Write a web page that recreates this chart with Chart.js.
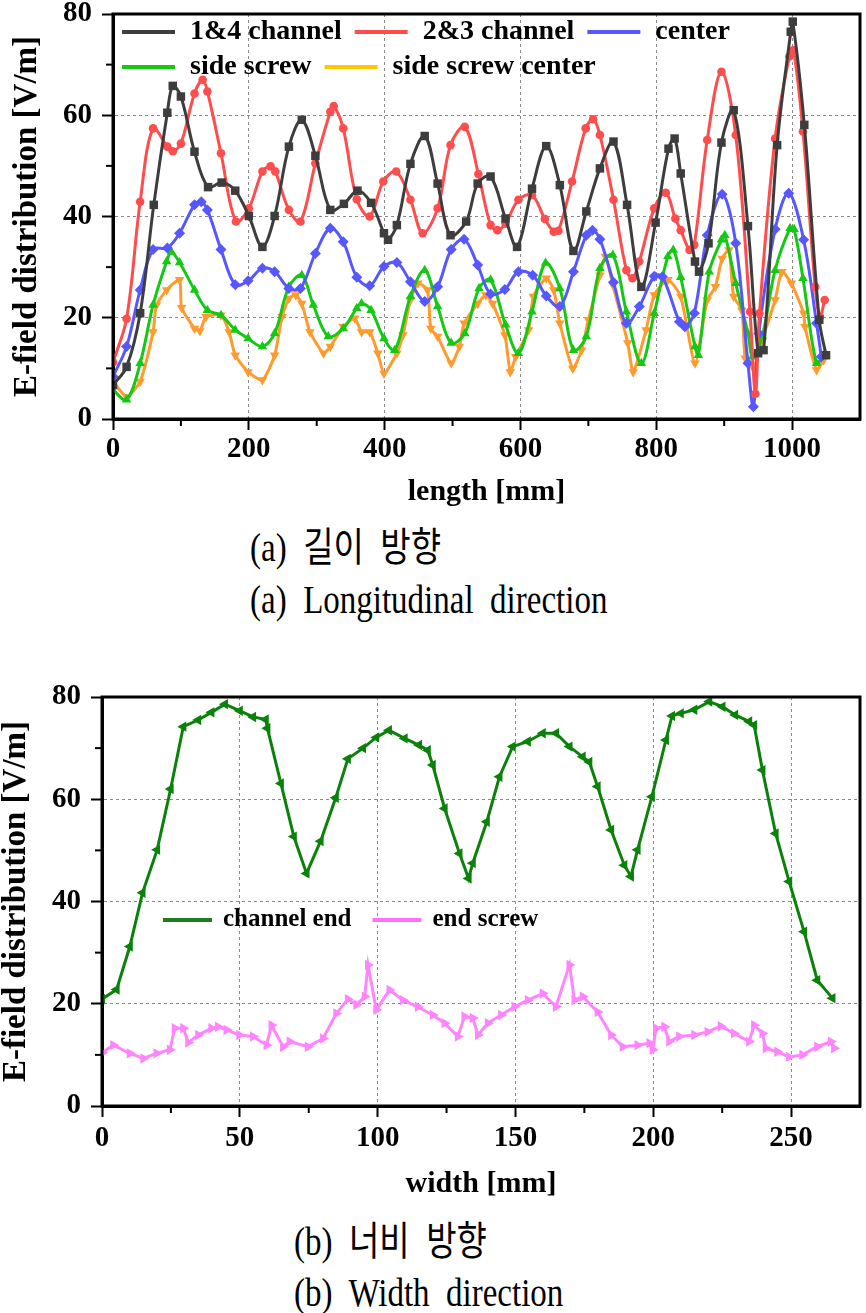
<!DOCTYPE html>
<html>
<head>
<meta charset="utf-8">
<script src="https://cdn.jsdelivr.net/npm/chart.js@4.4.1/dist/chart.umd.min.js"></script>
<style>
    body { margin: 0; background: #fff; }
    #page { position: relative; width: 866px; height: 1313px; background: #fff; overflow: hidden; }
    canvas { position: absolute; left: 0; }
    .cap {
        position: absolute;
        font-family: "Liberation Serif", "Noto Sans CJK KR", serif;
        font-size: 33px;
        line-height: 40px;
        color: #000;
        white-space: pre;
        transform: scaleY(1.2);
        transform-origin: left center;
    }
</style>
</head>
<body>
<div id="page">
    <canvas id="lenChart" width="866" height="510" style="top:0"></canvas>
    <div class="cap" style="left:250px;top:528px">(a)  길이  방향</div>
    <div class="cap" style="left:250px;top:580px">(a)  Longitudinal  direction</div>
    <canvas id="widthChart" width="866" height="520" style="top:680px"></canvas>
    <div class="cap" style="left:294px;top:1222px">(b)  너비  방향</div>
    <div class="cap" style="left:294px;top:1273px">(b)  Width  direction</div>
</div>
<script>
/* ===================================================
   DATOS
=================================================== */

// (a) longitudinal: length [mm] / E-field [V/m]
const ch14Len = [0, 20, 40, 60, 80, 88, 100, 120, 140, 160, 180, 200, 220, 238, 259, 278, 298, 320, 340, 360, 380, 399, 405, 418, 438, 459, 478, 497, 520, 537, 556, 578, 595, 617, 638, 658, 678, 697, 717, 737, 757, 778, 799, 818, 827, 836, 857, 863, 877, 896, 914, 935, 950, 958, 978, 998, 1001, 1018, 1040, 1050];
const ch14Val = [6.7, 10.3, 20.9, 42.3, 60.5, 65.8, 63.7, 52.8, 45.8, 46.7, 45.1, 40.1, 34.0, 40.1, 53.8, 59.1, 52, 41.3, 42.5, 45.1, 42.7, 36.7, 35.4, 38.3, 50.4, 55.9, 46.5, 36.3, 39, 46.5, 47.9, 39.6, 34, 45.5, 53.9, 46.2, 33.2, 41, 49.5, 54.8, 42.3, 26.1, 38.8, 53.4, 55.4, 48.5, 31.1, 29.1, 34.7, 54.6, 61, 38.1, 13, 13.6, 54.1, 76.5, 78.5, 58.1, 19.6, 12.6];

const ch23Len = [0, 20, 40, 59, 80, 88, 100, 120, 132, 139, 159, 181, 200, 220, 232, 239, 259, 276, 298, 320, 325, 339, 359, 378, 398, 417, 438, 456, 478, 497, 518, 538, 556, 566, 578, 597, 617, 636, 649, 656, 676, 696, 707, 717, 737, 756, 765, 775, 797, 814, 828, 836, 849, 856, 875, 896, 917, 938, 946, 952, 975, 996, 1002, 1016, 1034, 1041, 1048];
const ch23Val = [11.2, 19.8, 42.9, 57.4, 53.8, 52.9, 54.4, 64.3, 67, 64.7, 52.5, 39, 41.6, 48.9, 49.9, 48.9, 41.3, 39, 50.5, 60.7, 61.8, 57.4, 43.4, 40, 46.9, 48.9, 43.3, 36.7, 41.6, 54.1, 57.7, 48.4, 38.3, 37.3, 38.6, 43.3, 44.2, 39.5, 37, 37.2, 46.9, 57.4, 59.2, 56.1, 43.3, 29.4, 27.8, 31.1, 41.6, 44.7, 39.6, 37.3, 33.4, 34.4, 55.1, 68.6, 56.1, 21.2, 5, 20.9, 55.4, 71.6, 72.9, 56.8, 26.1, 20.2, 23.5];

const centerLen = [0, 20, 40, 59, 80, 98, 120, 130, 139, 159, 180, 199, 220, 238, 259, 276, 298, 320, 339, 359, 378, 399, 418, 438, 459, 478, 498, 517, 537, 556, 577, 597, 618, 638, 658, 678, 697, 706, 717, 737, 756, 775, 797, 809, 834, 842, 856, 875, 897, 917, 935, 943, 951, 975, 995, 1017, 1036, 1043];
const centerVal = [8.4, 14.3, 25.5, 33.5, 33.8, 36.7, 42.3, 42.9, 41.3, 33.5, 26.5, 27.3, 29.8, 29.1, 25.8, 25.8, 32.7, 37.7, 35, 28, 26.3, 30.1, 30.9, 27.1, 23.2, 26.1, 33.5, 35.5, 30.4, 24.7, 25.6, 29.1, 28.4, 24.3, 22.2, 29.1, 36.3, 37.3, 35.5, 27, 18.9, 22.2, 28.2, 28.1, 19.2, 18.2, 20.9, 36.3, 44.4, 34.7, 11, 2.4, 16.9, 37.5, 44.6, 35.4, 18.9, 12.3];

const sideLen = [0, 20, 40, 59, 79, 86, 98, 120, 139, 159, 180, 199, 220, 238, 259, 278, 295, 317, 339, 359, 366, 380, 399, 415, 438, 459, 478, 498, 518, 539, 556, 578, 597, 617, 637, 658, 678, 697, 717, 736, 756, 778, 797, 817, 825, 836, 857, 862, 878, 896, 901, 917, 935, 942, 956, 975, 997, 1003, 1016, 1036, 1046];
const sideVal = [5.7, 3.8, 11, 22.5, 31.1, 33, 30.9, 25.5, 21.5, 20.5, 17.6, 15.9, 14.3, 16.9, 26.1, 28.4, 22.5, 16.3, 17.9, 21.9, 22.8, 21.5, 15.9, 13.6, 24.2, 29.4, 22.2, 15, 16.9, 25.8, 27.5, 18.6, 13, 21.2, 30.8, 25.8, 13.6, 16.3, 29.8, 32.4, 21.2, 11, 20.9, 32.1, 33.4, 28, 14.3, 12.6, 29.1, 35.4, 36.3, 26.8, 16.9, 12.3, 16.3, 29.4, 37.7, 37.5, 27.8, 11, 12.6];

const sideCenterLen = [0, 20, 40, 59, 64, 79, 98, 101, 120, 128, 137, 159, 171, 180, 199, 220, 238, 249, 259, 269, 278, 290, 310, 320, 339, 356, 366, 378, 390, 399, 418, 427, 438, 449, 463, 468, 478, 498, 510, 517, 537, 549, 559, 577, 585, 593, 612, 619, 638, 649, 658, 677, 690, 700, 717, 725, 736, 758, 766, 785, 797, 817, 836, 857, 875, 887, 897, 907, 914, 926, 931, 943, 956, 975, 985, 999, 1017, 1019, 1036, 1046];
const sideCenterVal = [7.4, 4.4, 7.4, 17.2, 22.5, 25.5, 27.5, 22, 17.9, 17.4, 20.2, 20.5, 17.2, 12.6, 9.3, 7.7, 12.6, 20.2, 23.8, 24.5, 22.8, 17.2, 13, 14.3, 18.2, 19.9, 17.2, 17.2, 13, 9, 13, 16.6, 23.5, 26.8, 25.5, 17.9, 16.3, 11, 14.3, 18.9, 22.8, 24.5, 22.8, 16.6, 9.3, 12.3, 17.6, 24.2, 27.8, 25.5, 18.9, 10, 13.6, 19.6, 28.4, 32.1, 26.5, 15, 9.3, 17.6, 24.5, 27.5, 24.2, 11, 23.5, 26.1, 31.7, 33.4, 24.2, 21.5, 12, 10, 15.6, 23.5, 29.1, 26.8, 20.9, 18.2, 9.7, 11.6];

// (b) width: width [mm] / E-field [V/m]
const chEndWidth = [0, 5.3, 10.1, 14.7, 20, 24.9, 29.5, 34.9, 39.7, 44.6, 50, 54.8, 59.4, 60, 64.9, 69.6, 74.2, 79.3, 84.8, 89.2, 94.7, 99.5, 104.1, 109.8, 115, 118.2, 120, 124.3, 129.7, 133, 134.5, 139.6, 144.2, 149, 154.5, 159.9, 164.7, 169.6, 174.4, 176.8, 179.8, 184.7, 189.5, 191.9, 194.3, 199.5, 204.6, 206.8, 210, 214.9, 220.3, 225.1, 229.7, 234.8, 236.6, 239.6, 244.4, 249.3, 254.7, 259.5, 265];
const chEndVal = [20.9, 22.8, 31.2, 41.7, 50.1, 62, 74.2, 75.5, 77, 78.6, 77.3, 76.1, 75.6, 73.9, 63.1, 52.7, 45.5, 51.8, 60.3, 67.9, 70, 72.1, 73.5, 71.9, 70.6, 69.6, 66.7, 58.2, 49.4, 44.5, 47.5, 55.6, 64.4, 70.3, 71.3, 72.9, 72.9, 70.3, 68.3, 67.3, 62.5, 54, 47.1, 44.9, 50.1, 60.5, 71.6, 76.3, 76.8, 77.5, 79.1, 78.1, 76.5, 75.2, 74.5, 65.7, 53.3, 43.9, 34.1, 24.6, 21.1];

const endScrewWidth = [0, 4.1, 10.1, 15, 19.8, 24.6, 26.4, 29.5, 31.3, 34.9, 39.7, 42.1, 45.2, 49.8, 54.8, 59.7, 61.5, 65.7, 68.1, 74.7, 80.2, 85, 89.2, 92.3, 95.3, 96.5, 99.5, 104.3, 109.2, 114.6, 120, 124.3, 129.1, 131.5, 134.5, 136.4, 140, 144.8, 149.6, 154.5, 159.9, 164.7, 169.6, 171.4, 174.4, 179.8, 184.7, 188.9, 194.3, 198.6, 199.8, 201, 204, 205.8, 209.4, 214.9, 219.7, 224.5, 229.3, 234.8, 236.6, 239.6, 240.8, 245, 249.3, 254.1, 259.5, 264.4, 265.6];
const endScrewVal = [10.4, 11.9, 10.3, 9.3, 10.3, 11, 15.2, 15.2, 12.4, 13.9, 15.2, 15.5, 14.9, 13.9, 13.6, 11.9, 15.8, 11.6, 12.6, 11.6, 13.2, 18.1, 20.9, 19.8, 21.4, 27.6, 18.8, 22.7, 20.7, 19.4, 17.8, 16.2, 13.6, 17.5, 17.2, 13.9, 16.2, 17.8, 19.4, 20.7, 22, 19.4, 27.6, 20.7, 21.4, 18.4, 13.9, 11.6, 11.9, 12.3, 11, 15.2, 15.5, 12.6, 13.6, 13.9, 14.5, 15.6, 14.2, 12.6, 15.8, 14.2, 11.3, 10.6, 9.6, 10, 11.6, 12.6, 11.3];

/* ===================================================
   PLUGINS
=================================================== */

Chart.defaults.font.family = '"Liberation Serif", "Times New Roman", serif';
Chart.defaults.font.weight = 'bold';
Chart.defaults.color = '#000';

function pts(xs, ys) {
    return xs.map((x, i) => ({ x: x, y: ys[i] }));
}

// marco negro + ticks menores cortos
const frameTicks = {
    id: 'frameTicks',
    afterDraw(chart, args, opts) {
        const ctx = chart.ctx;
        const xs = chart.scales.x;
        const ys = chart.scales.y;
        const a = chart.chartArea;
        ctx.save();
        ctx.strokeStyle = '#000';
        ctx.lineWidth = 2;
        xs.ticks.forEach((t) => {
            if (t.value % opts.xMajor === 0 || t.value >= xs.max) return;
            const px = xs.getPixelForValue(t.value);
            ctx.beginPath();
            ctx.moveTo(px, a.bottom);
            ctx.lineTo(px, a.bottom + opts.minorLen);
            ctx.stroke();
        });
        ys.ticks.forEach((t) => {
            if (t.value % opts.yMajor === 0) return;
            const py = ys.getPixelForValue(t.value);
            ctx.beginPath();
            ctx.moveTo(a.left, py);
            ctx.lineTo(a.left - opts.minorLen, py);
            ctx.stroke();
        });
        ctx.lineWidth = 3;
        ctx.strokeRect(a.left, a.top, a.right - a.left, a.bottom - a.top);
        ctx.restore();
    }
};

// leyenda dentro del área del gráfico
const insideLegend = {
    id: 'insideLegend',
    afterDatasetsDraw(chart, args, opts) {
        const ctx = chart.ctx;
        const a = chart.chartArea;
        ctx.save();
        ctx.font = opts.font;
        ctx.textBaseline = 'middle';
        ctx.textAlign = 'left';
        opts.rows.forEach((row, r) => {
            let x = a.left + opts.startX;
            const y = a.top + opts.rowY[r];
            row.forEach((i) => {
                const ds = chart.data.datasets[i];
                ctx.strokeStyle = opts.colors[i];
                ctx.lineWidth = 4;
                ctx.beginPath();
                ctx.moveTo(x, y);
                ctx.lineTo(x + opts.swatch, y);
                ctx.stroke();
                x += opts.swatch + opts.gap;
                ctx.fillStyle = '#000';
                ctx.fillText(ds.label, x, y);
                x += ctx.measureText(ds.label).width + opts.itemGap;
            });
        });
        ctx.restore();
    }
};

function makeScales(cfg) {
    return {
        x: {
            type: 'linear',
            min: 0,
            max: cfg.xMax,
            afterFit: (s) => {
                s.height = cfg.xHeight;
                s.paddingLeft = 0;
                s.paddingRight = 0;
            },
            ticks: {
                stepSize: cfg.xStep,
                autoSkip: false,
                maxRotation: 0,
                padding: cfg.xPad,
                font: { size: 29, weight: 'bold' },
                color: '#000',
                callback: (v) => (v % cfg.xMajor === 0 && v <= cfg.xLastLabel ? v : '')
            },
            grid: {
                color: (c) => (c.tick && c.tick.value % cfg.xMajor === 0 ? '#8a8a8a' : 'rgba(0,0,0,0)'),
                lineWidth: 1,
                tickLength: 11,
                tickWidth: 2,
                tickColor: (c) => (c.tick && c.tick.value % cfg.xMajor === 0 ? '#000' : 'rgba(0,0,0,0)')
            },
            border: { color: '#000', width: 3, dash: [3, 3] },
            title: {
                display: true,
                text: cfg.xTitle,
                font: { size: 30, weight: 'bold', lineHeight: 1 },
                color: '#000',
                padding: { top: 0, bottom: cfg.xTitlePad }
            }
        },
        y: {
            min: 0,
            max: 80,
            afterFit: (s) => {
                s.width = cfg.yWidth;
                s.paddingTop = 0;
                s.paddingBottom = 0;
            },
            ticks: {
                stepSize: 10,
                autoSkip: false,
                padding: 10,
                font: { size: 29, weight: 'bold' },
                color: '#000',
                callback: (v) => (v % 20 === 0 ? v : '')
            },
            grid: {
                color: (c) => (c.tick && c.tick.value % 20 === 0 ? '#8a8a8a' : 'rgba(0,0,0,0)'),
                lineWidth: 1,
                tickLength: 11,
                tickWidth: 2,
                tickColor: (c) => (c.tick && c.tick.value % 20 === 0 ? '#000' : 'rgba(0,0,0,0)')
            },
            border: { color: '#000', width: 3, dash: [3, 3] },
            title: {
                display: true,
                text: 'E-field distribution [V/m]',
                font: { size: 33, weight: 'bold', lineHeight: 1 },
                color: '#000',
                padding: { top: cfg.yTitlePad, bottom: 0 }
            }
        }
    };
}

function series(label, xs, ys, color, style, radius, rotation, tension) {
    return {
        label: label,
        data: pts(xs, ys),
        borderColor: color,
        backgroundColor: color,
        borderWidth: 3,
        tension: tension,
        pointStyle: style,
        pointRadius: radius,
        pointRotation: rotation,
        pointBorderWidth: 0,
        pointBackgroundColor: color
    };
}

/* ===================================================
   (a) LONGITUDINAL
=================================================== */

new Chart(document.getElementById('lenChart'), {
    type: 'line',
    data: {
        datasets: [
            series('1&4 channel', ch14Len, ch14Val, '#3d3d3d', 'rect', 6, 0, 0.35),
            series('2&3 channel', ch23Len, ch23Val, '#ff4c4c', 'circle', 4.3, 0, 0.35),
            series('center', centerLen, centerVal, '#5757ff', 'rectRot', 5.5, 0, 0.35),
            series('side screw', sideLen, sideVal, '#14c814', 'triangle', 5.5, 0, 0.35),
            series('side screw center', sideCenterLen, sideCenterVal, '#ff9a2e', 'triangle', 5.5, 180, 0.2)
        ]
    },
    options: {
        responsive: false,
        animation: false,
        layout: { padding: { top: 14, right: 4, left: 0, bottom: 0 } },
        plugins: {
            legend: { display: false },
            tooltip: { enabled: false },
            frameTicks: { xMajor: 200, yMajor: 20, minorLen: 7 },
            insideLegend: {
                font: 'bold 28px "Liberation Serif", serif',
                rows: [[0, 1, 2], [3, 4]],
                rowY: [18, 53],
                startX: 9,
                swatch: 53,
                gap: 15,
                itemGap: 13,
                colors: ['#3d3d3d', '#ff4c4c', '#5757ff', '#14c814', '#ffc800']
            }
        },
        scales: makeScales({
            xMax: 1100, xStep: 100, xMajor: 200, xLastLabel: 1000,
            xHeight: 91, xPad: 2, xTitle: 'length [mm]', xTitlePad: 3,
            yWidth: 113, yTitlePad: 11
        })
    },
    plugins: [frameTicks, insideLegend]
});

/* ===================================================
   (b) WIDTH
=================================================== */

new Chart(document.getElementById('widthChart'), {
    type: 'line',
    data: {
        datasets: [
            series('channel end', chEndWidth, chEndVal, '#0a820a', 'triangle', 6, -90, 0),
            series('end screw', endScrewWidth, endScrewVal, '#ff85ff', 'triangle', 6, 90, 0)
        ]
    },
    options: {
        responsive: false,
        animation: false,
        layout: { padding: { top: 17, right: 6, left: 0, bottom: 0 } },
        plugins: {
            legend: { display: false },
            tooltip: { enabled: false },
            frameTicks: { xMajor: 50, yMajor: 20, minorLen: 7 },
            insideLegend: {
                font: 'bold 25px "Liberation Serif", serif',
                rows: [[0, 1]],
                rowY: [223],
                startX: 61,
                swatch: 49,
                gap: 11,
                itemGap: 21,
                colors: ['#1e7d1e', '#ff70ff']
            }
        },
        scales: makeScales({
            xMax: 275, xStep: 25, xMajor: 50, xLastLabel: 250,
            xHeight: 94, xPad: 4, xTitle: 'width [mm]', xTitlePad: 1,
            yWidth: 102, yTitlePad: 0
        })
    },
    plugins: [frameTicks, insideLegend]
});
</script>
</body>
</html>
